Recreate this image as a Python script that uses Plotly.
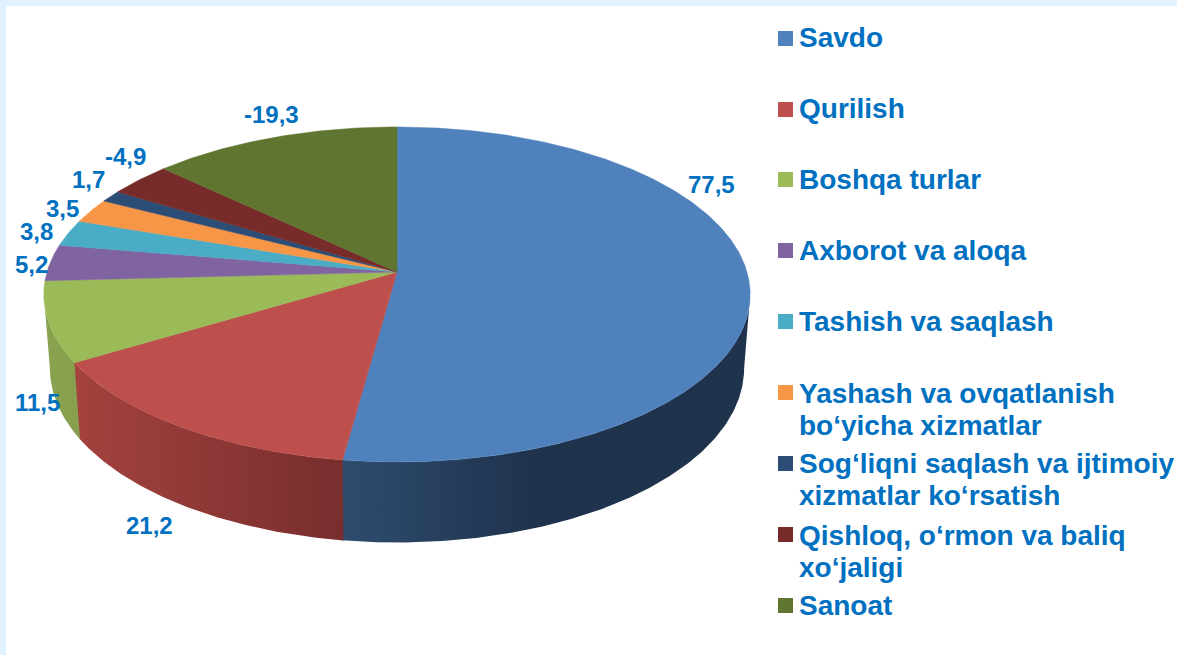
import math
import plotly.graph_objects as go

# ---- data ----
categories = ["Savdo", "Qurilish", "Boshqa turlar", "Axborot va aloqa", "Tashish va saqlash",
              "Yashash va ovqatlanish\nbo‘yicha xizmatlar",
              "Sog‘liqni saqlash va ijtimoiy\nxizmatlar ko‘rsatish",
              "Qishloq, o‘rmon va baliq\nxo‘jaligi", "Sanoat"]
values = [77.5, 21.2, 11.5, 5.2, 3.8, 3.5, 1.7, -4.9, -19.3]
colors = ["#4F81BD", "#BD4F4C", "#9BBB59", "#8064A2", "#4BACC6", "#F79646", "#2C4D75", "#772C2A", "#5F7530"]
# wall gradient colours (left, right), only slices facing the viewer
wall_colors = {0: ("#2E4C6F", "#1F334D"), 1: ("#A4423F", "#772E2D"), 2: ("#8AA350", "#88A04E")}

# ---- layout ----
W, H = 1177, 655
TXT = "#0070C0"
FONT = "Liberation Sans, Arial, sans-serif"
label_xy = [(711, 184), (149, 525), (37, 402), (31, 264), (36, 231), (62, 208), (88, 179), (125, 156), (271, 114)]
legend_baselines = [47, 118, 189, 260, 331, 403, 473, 545, 615]
legend_square_y = [38.5, 109.5, 179.5, 250.5, 321.5, 392.5, 463.5, 534.5, 605.5]
LINE_PITCH = 32.5

# perspective mapping of the disc onto the picture
K = 0.134
TOP = dict(x0=397, y0=272, a=350, b=164.5)
BOT = dict(x0=397, y0=345, a=344, b=171)
OVERLAP = 0.3  # degrees of wall tucked under its neighbour
SIL = math.degrees(math.acos(-K))  # angle of the rim's side-most point


def ring(theta_deg, p):
    t = math.radians(theta_deg)
    u, v = math.sin(t), math.cos(t)
    w = 1 + K * v
    return p["x0"] + p["a"] * u / w, p["y0"] - p["b"] * v / w


def arc(a0, a1, p):
    n = max(2, int(abs(a1 - a0) * 2) + 1)
    pts = [ring(a0 + (a1 - a0) * i / (n - 1), p) for i in range(n)]
    return [q[0] for q in pts], [q[1] for q in pts]


total = sum(abs(v) for v in values)
edges = [0.0]
for v in values:
    edges.append(edges[-1] + abs(v) / total * 360)

fig = go.Figure()

# side walls (drawn first, top face paints over their hidden part)
for i, (c0, c1) in wall_colors.items():
    a0, a1 = edges[i], edges[i + 1] + OVERLAP
    if i == 0:
        a0 = SIL
    if i == 2:
        a1 = 360 - SIL
    tx, ty = arc(a0, a1, TOP)
    bx, by = arc(a0, a1, BOT)
    xs = tx + bx[::-1] + [tx[0]]
    ys = ty + by[::-1] + [ty[0]]
    if i == 0:
        start, stop = ring(edges[1], TOP)[0], 530
    elif i == 1:
        start, stop = ring(edges[2], TOP)[0], ring(edges[1], TOP)[0]
    else:
        start, stop = 44, ring(edges[2], TOP)[0]
    fig.add_trace(go.Scatter(
        x=xs, y=ys, mode="lines", fill="toself", line=dict(width=0), hoverinfo="skip",
        fillgradient=dict(type="horizontal", colorscale=[[0, c0], [1, c1]], start=start, stop=stop),
    ))

# top faces
for i, c in enumerate(colors):
    ax, ay = arc(edges[i], edges[i + 1], TOP)
    xs = [TOP["x0"]] + ax + [TOP["x0"]]
    ys = [TOP["y0"]] + ay + [TOP["y0"]]
    fig.add_trace(go.Scatter(x=xs, y=ys, mode="lines", fill="toself", fillcolor=c,
                             line=dict(color=c, width=0.5), name=categories[i].replace("\n", " "),
                             hoverinfo="name"))

# data labels
for v, (x, y) in zip(values, label_xy):
    fig.add_annotation(x=x, y=y, text=f"{v:.1f}".replace(".", ","), showarrow=False,
                       font=dict(family=FONT, size=24, color=TXT, weight="bold"))

# legend
fig.add_trace(go.Scatter(x=[785.5] * len(colors), y=legend_square_y, mode="markers",
                         marker=dict(symbol="square", size=15, color=colors, line=dict(width=0)),
                         hoverinfo="skip"))
for name, base in zip(categories, legend_baselines):
    for j, line in enumerate(name.split("\n")):
        fig.add_annotation(x=797, y=base - 10 + j * LINE_PITCH, text=line, showarrow=False, xanchor="left",
                           yanchor="middle", align="left",
                           font=dict(family=FONT, size=28, color=TXT, weight="bold"))

fig.update_layout(
    width=W, height=H, showlegend=False,
    margin=dict(l=6, r=0, t=6, b=0, pad=0),
    paper_bgcolor="#DFF2FF", plot_bgcolor="#FFFFFF",
    xaxis=dict(range=[6, W], visible=False, fixedrange=True),
    yaxis=dict(range=[H, 6], visible=False, fixedrange=True),
)
fig.write_html("out.html", post_script="document.body.style.margin='0';document.body.style.overflow='hidden';",
               config={"displayModeBar": False})
